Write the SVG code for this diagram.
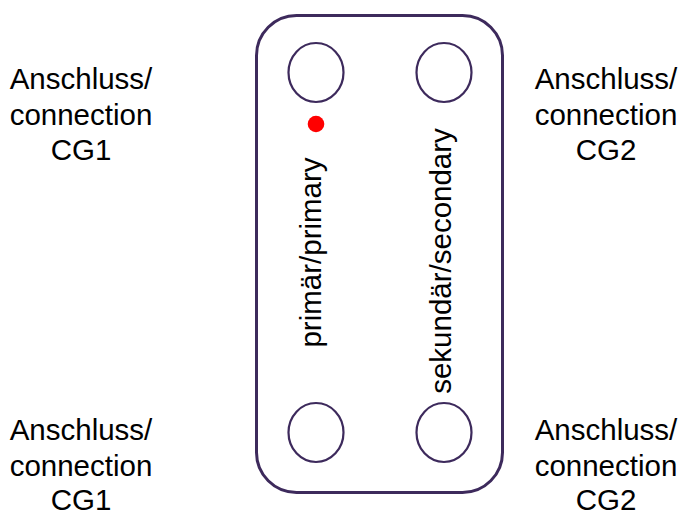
<svg xmlns="http://www.w3.org/2000/svg" width="682" height="516" viewBox="0 0 682 516">
<style>
.lbl{font-family:"Liberation Sans",Arial,sans-serif;font-size:29.5px;fill:#000;text-anchor:middle}
.port{fill:none;stroke:#3d2a5c;stroke-width:2.2}
</style>
<rect width="682" height="516" fill="#fff"/>
<g id="plate">
<rect x="256.5" y="15.5" width="246" height="477" rx="40" ry="40" fill="none" stroke="#3d2a5c" stroke-width="3"/>
</g>
<g id="port-p1"><ellipse class="port" cx="316" cy="72.5" rx="27.5" ry="29.5"/></g>
<g id="port-s1"><ellipse class="port" cx="444" cy="72.5" rx="27.5" ry="29.5"/></g>
<g id="port-p2"><ellipse class="port" cx="316" cy="432.5" rx="27.5" ry="29.5"/></g>
<g id="port-s2"><ellipse class="port" cx="444" cy="432.5" rx="27.5" ry="29.5"/></g>
<g id="marker"><circle cx="316" cy="124" r="8.3" fill="#ff0000"/></g>
<g id="primary-label"><text class="lbl" transform="translate(321,252.5) rotate(-90)">primär/primary</text></g>
<g id="secondary-label"><text class="lbl" transform="translate(451,261) rotate(-90)">sekundär/secondary</text></g>
<g id="cg1-top"><text class="lbl" x="81"><tspan x="81" y="89">Anschluss/</tspan><tspan x="81" y="125">connection</tspan><tspan x="81" y="160">CG1</tspan></text></g>
<g id="cg2-top"><text class="lbl" x="606"><tspan x="606" y="89">Anschluss/</tspan><tspan x="606" y="125">connection</tspan><tspan x="606" y="160">CG2</tspan></text></g>
<g id="cg1-bottom"><text class="lbl" x="81"><tspan x="81" y="440">Anschluss/</tspan><tspan x="81" y="476">connection</tspan><tspan x="81" y="510">CG1</tspan></text></g>
<g id="cg2-bottom"><text class="lbl" x="606"><tspan x="606" y="440">Anschluss/</tspan><tspan x="606" y="476">connection</tspan><tspan x="606" y="510">CG2</tspan></text></g>
<g id="connectors"></g>
</svg>
